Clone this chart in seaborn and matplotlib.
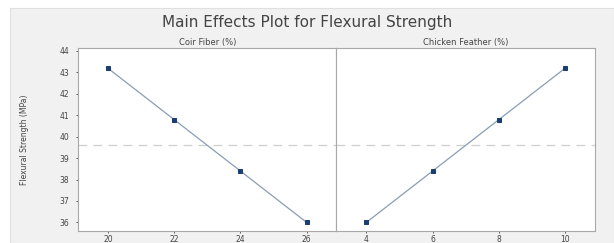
import pandas as pd
import matplotlib.pyplot as plt
import seaborn as sns

# factor levels and mean flexural strength (MPa)
coir_levels = [20, 22, 24, 26]
coir_means = [43.2, 40.8, 38.4, 36.0]
feather_levels = [4, 6, 8, 10]
feather_means = [36.0, 38.4, 40.8, 43.2]
grand_mean = 39.6
y_ticks = [36, 37, 38, 39, 40, 41, 42, 43, 44]

df_coir = pd.DataFrame({'level': coir_levels, 'mean': coir_means})
df_feat = pd.DataFrame({'level': feather_levels, 'mean': feather_means})

sns.set_style('white')
plt.rcParams['font.family'] = ['DejaVu Sans']

fig = plt.figure(figsize=(6.14, 2.43), dpi=100)
fig.patch.set_facecolor('white')

# grey panel behind the plot (Minitab style)
bg = fig.add_axes([10/614, 0, 1 - 10/614, 1 - 8/243], zorder=-1)
bg.set_facecolor('#f1f1f1')
bg.set_xticks([])
bg.set_yticks([])
for s in bg.spines.values():
    s.set_color('#e0e0e0')
    s.set_linewidth(0.8)

left, right, bottom, top = 78/614, 595/614, 1 - 231/243, 1 - 48/243
w = (right - left) / 2
ax1 = fig.add_axes([left, bottom, w, top - bottom])
ax2 = fig.add_axes([left + w, bottom, w, top - bottom], sharey=ax1)

line_col = '#8a9db5'
mark_col = '#1c3f73'
for ax, d, lv, name in [(ax1, df_coir, coir_levels, 'Coir Fiber (%)'),
                        (ax2, df_feat, feather_levels, 'Chicken Feather (%)')]:
    ax.set_facecolor('white')
    ax.axhline(grand_mean, color='#cfcfcf', ls=(0, (7, 5)), lw=0.9, zorder=1)
    sns.lineplot(data=d, x='level', y='mean', ax=ax, color=line_col, lw=0.9,
                 marker='s', markersize=3.5, markerfacecolor=mark_col,
                 markeredgecolor=mark_col, zorder=3)
    ax.set_xticks(lv)
    ax.set_xlim(lv[0] - 0.9, lv[-1] + 0.9)
    ax.set_xlabel('')
    ax.set_ylabel('')
    for s in ax.spines.values():
        s.set_color('#a8a8a8')
        s.set_linewidth(0.8)
    ax.tick_params(axis='both', labelsize=5.5, colors='#444444', length=1.5, width=0.6,
                   direction='out', pad=1.5, bottom=True, left=True)
    ax.text(0.5, 1.005, name, transform=ax.transAxes, ha='center', va='bottom',
            fontsize=6, color='#444444')

ax1.set_ylim(35.6, 44.14)
ax1.set_yticks(y_ticks)
ax1.tick_params(axis='y', pad=5)
ax2.tick_params(axis='y', left=False, labelleft=False)
ax1.set_ylabel('Flexural Strength (MPa)', fontsize=5.5, color='#444444', labelpad=22)

fig.text(0.5, 1 - 22/243, 'Main Effects Plot for Flexural Strength', ha='center', va='center',
         fontsize=11, color='#444444')

fig.savefig('out.png', dpi=100, facecolor=fig.get_facecolor())
